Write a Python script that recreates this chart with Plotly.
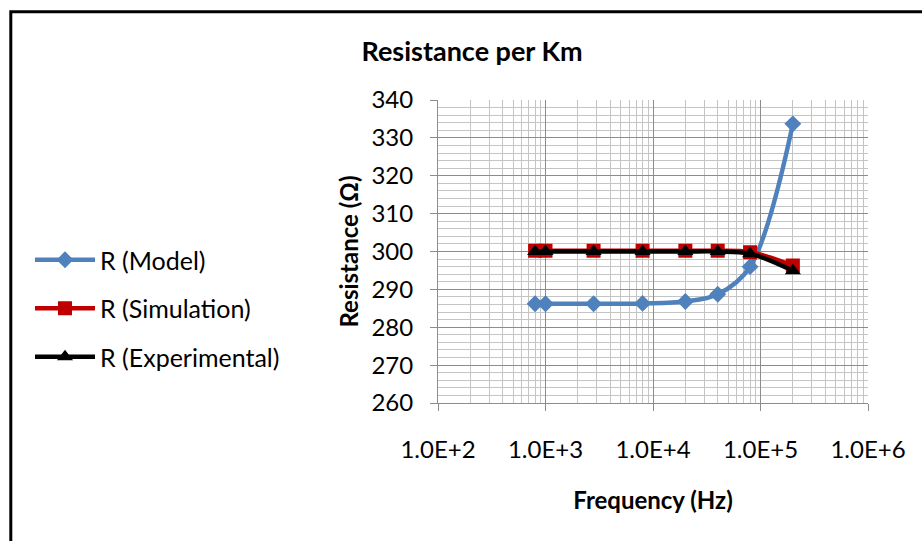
import plotly.graph_objects as go

freq_hz = [800, 1000, 2800, 8000, 20000, 40000, 80000, 200000]
r_model = [286.2, 286.2, 286.2, 286.3, 286.8, 288.7, 296.0, 333.7]
r_simulation = [300.2, 300.2, 300.2, 300.2, 300.2, 300.2, 299.8, 296.3]
r_experimental = [300.0, 300.0, 300.0, 300.0, 300.0, 300.0, 299.4, 294.9]

x_tickvals = [1e2, 1e3, 1e4, 1e5, 1e6]
x_ticktext = ["1.0E+2", "1.0E+3", "1.0E+4", "1.0E+5", "1.0E+6"]
x_minor = [k * 10 ** d for d in range(2, 6) for k in range(2, 10)]

FONT = "Lato"
W, H = 922, 541
L, R, T, B = 438, 54, 100, 137.5

fig = go.Figure()
fig.add_trace(go.Scatter(
    x=freq_hz, y=r_model, name="R (Model)", mode="lines+markers",
    line=dict(color="#4F81BD", width=4.5, shape="spline"),
    marker=dict(symbol="diamond", size=13, color="#4F81BD"),
    legendgroup="a"))
fig.add_trace(go.Scatter(
    x=freq_hz, y=r_simulation, name="R (Simulation)", mode="lines+markers",
    line=dict(color="#C00000", width=4.5, shape="spline"),
    marker=dict(symbol="square", size=14, color="#C00000"),
    legendgroup="b"))
fig.add_trace(go.Scatter(
    x=freq_hz, y=r_experimental, name="R (Experimental)", mode="lines+markers",
    line=dict(color="#000000", width=4.5, shape="spline"),
    marker=dict(symbol="triangle-up", size=14, color="#000000"),
    legendgroup="c"))

pw = W - L - R
ph = H - T - B
def px2paper_x(px):
    return (px - L) / pw
def px2paper_y(py):
    return (H - B - py) / ph

fig.update_layout(
    width=W, height=H,
    margin=dict(l=L, r=R, t=T, b=B),
    paper_bgcolor="white", plot_bgcolor="white",
    font=dict(family=FONT, size=24, color="#000000"),
    title=dict(text="<b>Resistance per Km</b>", x=472 / W, xref="container", xanchor="center",
               y=1 - 52 / H, yref="container", yanchor="middle",
               font=dict(family=FONT, size=27, color="#000000")),
    showlegend=True,
    legend=dict(xref="container", yref="container", x=30 / W, y=1 - 237 / H,
                xanchor="left", yanchor="top", traceorder="grouped", tracegroupgap=13,
                itemwidth=60, font=dict(family=FONT, size=25, color="#000000"),
                bgcolor="rgba(0,0,0,0)"),
    xaxis=dict(type="log", range=[2, 6], tickvals=x_tickvals, ticktext=x_ticktext,
               showgrid=True, gridcolor="#8C8C8C", gridwidth=1,
               showline=True, linecolor="#8C8C8C", linewidth=1,
               ticks="outside", ticklen=7, tickcolor="#8C8C8C",
               ticklabelstandoff=18,
               minor=dict(tickvals=x_minor, showgrid=True, gridcolor="#C4C4C4", gridwidth=1, ticks=""),
               tickfont=dict(family=FONT, size=24), zeroline=False,
               title=dict(text="<b>Frequency (Hz)</b>", standoff=30,
                          font=dict(family=FONT, size=24))),
    yaxis=dict(range=[260, 340], dtick=10, tick0=260,
               showgrid=True, gridcolor="#8C8C8C", gridwidth=1,
               showline=True, linecolor="#8C8C8C", linewidth=1,
               ticks="outside", ticklen=7, tickcolor="#8C8C8C",
               ticklabelstandoff=12,
               minor=dict(dtick=2, showgrid=True, gridcolor="#C4C4C4", gridwidth=1, ticks=""),
               tickfont=dict(family=FONT, size=24), zeroline=False,
               title=dict(text="<b>Resistance (Ω)</b>", standoff=6,
                          font=dict(family=FONT, size=24))),
    shapes=[dict(type="path", xref="paper", yref="paper",
                 path=f"M {px2paper_x(10.8)} {px2paper_y(545)} L {px2paper_x(10.8)} {px2paper_y(11.5)} L {px2paper_x(930)} {px2paper_y(11.5)}",
                 line=dict(color="#000000", width=3), layer="above")],
)

fig.write_html("out.html")
